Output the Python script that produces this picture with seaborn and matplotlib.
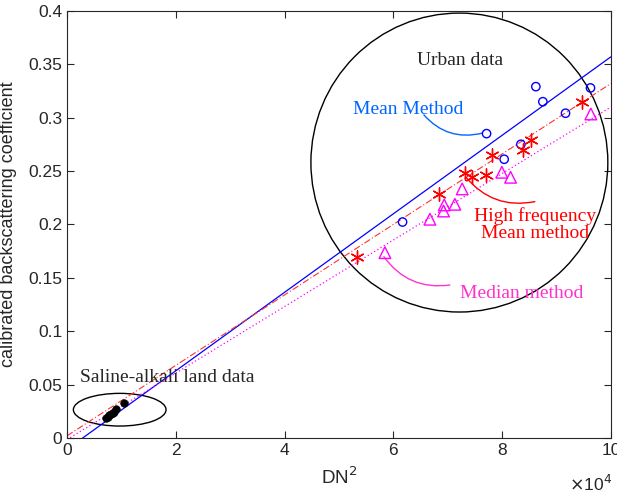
import numpy as np
import pandas as pd
import matplotlib
matplotlib.use('Agg')
import matplotlib.pyplot as plt
import seaborn as sns
from matplotlib.patches import Ellipse

# urban samples, three estimation methods
mean_x = [86210, 96260, 87500, 91670, 77150, 83460, 80390, 61700]
mean_y = [0.3291, 0.3279, 0.3150, 0.3042, 0.2851, 0.2751, 0.2611, 0.2023]
hf_x = [94610, 85290, 83760, 78070, 73160, 74390, 76960, 68440, 53370]
hf_y = [0.3144, 0.2789, 0.2698, 0.2654, 0.2480, 0.2445, 0.2464, 0.2286, 0.1693]
med_x = [96320, 79960, 81560, 72670, 71320, 69360, 69240, 66730, 58460]
med_y = [0.3035, 0.2489, 0.2442, 0.2333, 0.2189, 0.2183, 0.2126, 0.2049, 0.1736]

# saline-alkali land samples
sal_x = [7200, 7500, 7800, 8100, 8400, 8700, 9100, 10400]
sal_y = [0.0190, 0.0200, 0.0212, 0.0222, 0.0232, 0.0243, 0.0272, 0.0325]

# linear fits (slope, intercept)
fit_mean = (3.676e-6, -0.0106)
fit_hf = (3.30e-6, 0.0020)
fit_med = (3.115e-6, -0.0015)

x_ticks = [0, 20000, 40000, 60000, 80000, 100000]
x_labels = ['0', '2', '4', '6', '8', '10']
y_ticks = [0, 0.05, 0.1, 0.15, 0.2, 0.25, 0.3, 0.35, 0.4]
y_labels = ['0', '0.05', '0.1', '0.15', '0.2', '0.25', '0.3', '0.35', '0.4']

sns.set_style('ticks')
plt.rcParams['font.family'] = ['Liberation Sans', 'DejaVu Sans']
serif = ['Liberation Serif', 'DejaVu Serif']

fig = plt.figure(figsize=(6.17, 4.98), dpi=100)
ax = fig.add_axes([0.1086, 0.1205, 0.8814, 0.8575])

xx = np.array([0, 100000])
fits = pd.DataFrame({
    'x': np.concatenate([xx, xx, xx]),
    'y': np.concatenate([fit_mean[0] * xx + fit_mean[1],
                         fit_hf[0] * xx + fit_hf[1],
                         fit_med[0] * xx + fit_med[1]]),
    'm': ['mean'] * 2 + ['hf'] * 2 + ['med'] * 2,
})
sns.lineplot(data=fits[fits.m == 'mean'], x='x', y='y', color='#0000ff', lw=0.9, ax=ax)
sns.lineplot(data=fits[fits.m == 'hf'], x='x', y='y', color='#ff3030', lw=0.8,
             linestyle=(0, (6, 2, 1, 2)), ax=ax)
sns.lineplot(data=fits[fits.m == 'med'], x='x', y='y', color='#ff00ff', lw=0.9,
             linestyle=(0, (1, 2)), ax=ax)

asterisk = (6, 2, 0)
sns.scatterplot(x=mean_x, y=mean_y, marker='o', s=36, facecolor='none',
                edgecolor='#0000ff', linewidth=1.0, ax=ax, zorder=4)
sns.scatterplot(x=hf_x, y=hf_y, marker=asterisk, s=90, color='#ff0000',
                linewidth=1.0, ax=ax, zorder=4)
sns.scatterplot(x=med_x, y=med_y, marker='^', s=70, facecolor='none',
                edgecolor='#ff00ff', linewidth=1.0, ax=ax, zorder=4)
sns.scatterplot(x=sal_x, y=sal_y, marker='o', s=30, color='black',
                edgecolor='black', ax=ax, zorder=4)

# group outlines
ax.add_patch(Ellipse((72150, 0.258), 54600, 0.280, fill=False, ec='black', lw=1.0))
ax.add_patch(Ellipse((9690, 0.0265), 17040, 0.0306, fill=False, ec='black', lw=1.0))

ax.text(72240, 0.354, 'Urban data', family=serif, fontsize=14, ha='center', va='center')
ax.text(18470, 0.0571, 'Saline-alkali land data', family=serif, fontsize=14,
        ha='center', va='center')

curve = dict(arrowstyle='-', lw=1.0, connectionstyle='arc3,rad=0.3',
             shrinkA=0, shrinkB=0)

ax.text(62770, 0.3073, 'Mean Method', family=serif, fontsize=14,
        color='#0066ff', ha='center', va='center')
ax.annotate('', xy=(76300, 0.2855), xytext=(65630, 0.3026),
            arrowprops=dict(color='#0066ff', **curve))

ax.text(86030, 0.2000, 'High frequency\nMean method', family=serif, fontsize=14,
        color='#ff0000', ha='center', va='center', linespacing=1.05)
ax.annotate('', xy=(86030, 0.2214), xytext=(73290, 0.2448),
            arrowprops=dict(color='#ff0000', **curve))

ax.text(83580, 0.1356, 'Median method', family=serif, fontsize=14,
        color='#ff33cc', ha='center', va='center')
ax.annotate('', xy=(70400, 0.1433), xytext=(58270, 0.1698),
            arrowprops=dict(color='#ff33cc', **curve))

ax.set_xlim(0, 100000)
ax.set_ylim(0, 0.4)
ax.set_xticks(x_ticks)
ax.set_xticklabels(x_labels)
ax.set_yticks(y_ticks)
ax.set_yticklabels(y_labels)
ax.tick_params(direction='in', top=True, right=True, labelsize=12.5,
               colors='#262626', length=5, width=0.8)
for sp in ax.spines.values():
    sp.set_visible(True)
    sp.set_linewidth(0.8)
    sp.set_color('#262626')
ax.set_xlabel('DN$^2$', fontsize=13.5, color='#262626', labelpad=6)
ax.set_ylabel('calibrated backscattering coefficient', fontsize=13, color='#262626',
              labelpad=8)
ax.text(1.003, -0.085, r'$\times$10$^4$', transform=ax.transAxes, fontsize=12.5,
        color='#262626', ha='right', va='top')

fig.savefig('out.png', dpi=100)
